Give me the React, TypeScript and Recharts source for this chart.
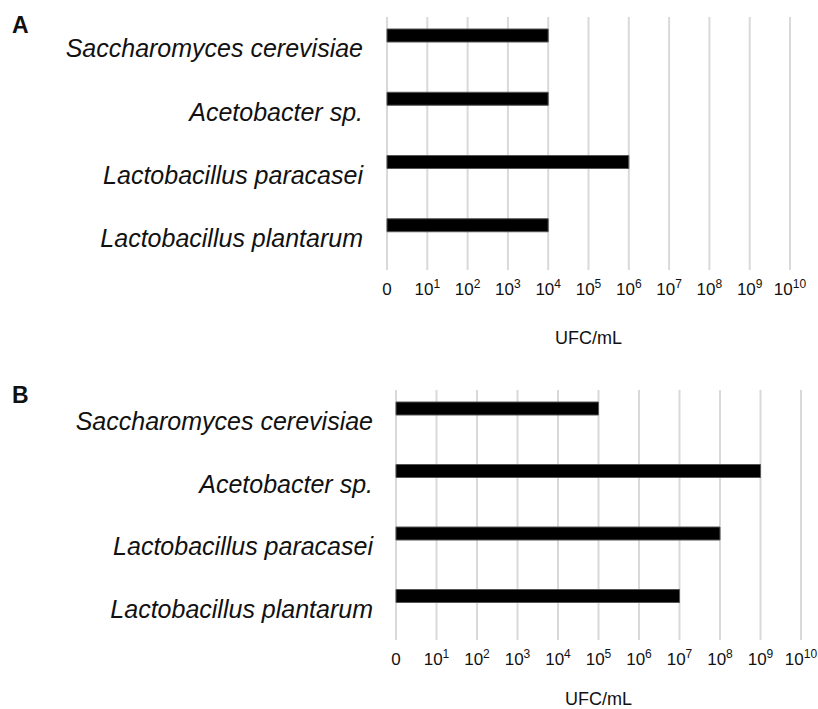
import React from "react";
import { BarChart, Bar, XAxis, YAxis, CartesianGrid } from "recharts";

const categories = [
  "Saccharomyces cerevisiae",
  "Acetobacter sp.",
  "Lactobacillus paracasei",
  "Lactobacillus plantarum",
];
// log10(UFC/mL) values
const valuesA = [4, 4, 6, 4];
const valuesB = [5, 9, 8, 7];
const tickValues = [0, 1, 2, 3, 4, 5, 6, 7, 8, 9, 10];
const tickBases = ["0", "10", "10", "10", "10", "10", "10", "10", "10", "10", "10"];
const tickExps = ["", "1", "2", "3", "4", "5", "6", "7", "8", "9", "10"];
const axisTitle = "UFC/mL";

const dataA = categories.map((name, i) => ({ name, value: valuesA[i] }));
const dataB = categories.map((name, i) => ({ name, value: valuesB[i] }));

const FONT = "'Liberation Sans', Arial, sans-serif";

const XTick = (props: any) => {
  const { x, y, payload } = props;
  const i = tickValues.indexOf(payload.value);
  return (
    <text x={x} y={y} textAnchor="middle" dy="0.71em" fontFamily={FONT} fontSize={17} fill="#111">
      <tspan>{tickBases[i]}</tspan>
      {tickExps[i] ? (
        <tspan dy={-7} fontSize={12}>
          {tickExps[i]}
        </tspan>
      ) : null}
    </text>
  );
};

const YTick = (props: any) => {
  const { x, y, payload } = props;
  return (
    <text x={x} y={y} textAnchor="end" dy="0.35em" fontFamily={FONT} fontStyle="italic" fontSize={25} fill="#111">
      {payload.value}
    </text>
  );
};

type PanelProps = {
  data: { name: string; value: number }[];
  height: number;
  top: number;
  right: number;
  yWidth: number;
  xHeight: number;
  tickMarginY: number;
  labelOffset: number;
};

const Panel = ({ data, height, top, right, yWidth, xHeight, tickMarginY, labelOffset }: PanelProps) => (
  <BarChart
    width={818}
    height={height}
    data={data}
    layout="vertical"
    margin={{ top, right, bottom: 0, left: 0 }}
    barGap={0}
  >
    <CartesianGrid horizontal={false} stroke="#d9d9d9" strokeWidth={2} />
    <XAxis
      type="number"
      domain={[0, 10]}
      ticks={tickValues}
      interval={0}
      axisLine={false}
      tickLine={false}
      tickMargin={7}
      height={xHeight}
      tick={<XTick />}
      label={{
        value: axisTitle,
        position: "insideBottom",
        offset: labelOffset,
        style: { fontFamily: FONT, fontSize: 18, fill: "#111" },
      }}
    />
    <YAxis
      type="category"
      dataKey="name"
      width={yWidth}
      axisLine={false}
      tickLine={false}
      tickMargin={tickMarginY}
      tick={<YTick />}
      interval={0}
    />
    <Bar dataKey="value" barSize={13} fill="#000" stroke="#555" strokeWidth={1} isAnimationActive={false} />
    <Bar dataKey="spacer" barSize={26} fill="none" isAnimationActive={false} />
  </BarChart>
);

const letterStyle: React.CSSProperties = {
  position: "absolute",
  fontFamily: FONT,
  fontWeight: "bold",
  fontSize: 23,
  color: "#111",
  lineHeight: "23px",
};

export default function App() {
  return (
    <div style={{ position: "absolute", left: 0, top: 0, width: 818, height: 709, background: "#fff", overflow: "hidden" }}>
      <div style={{ position: "absolute", left: 0, top: 0 }}>
        <Panel data={dataA} height={355} top={17} right={28} yWidth={387} xHeight={85} tickMarginY={18} labelOffset={11} />
      </div>
      <div style={{ position: "absolute", left: 0, top: 355 }}>
        <Panel data={dataB} height={354} top={35} right={17} yWidth={396} xHeight={69} tickMarginY={17} labelOffset={4} />
      </div>
      <div style={{ ...letterStyle, left: 12, top: 14 }}>A</div>
      <div style={{ ...letterStyle, left: 12, top: 384 }}>B</div>
    </div>
  );
}
